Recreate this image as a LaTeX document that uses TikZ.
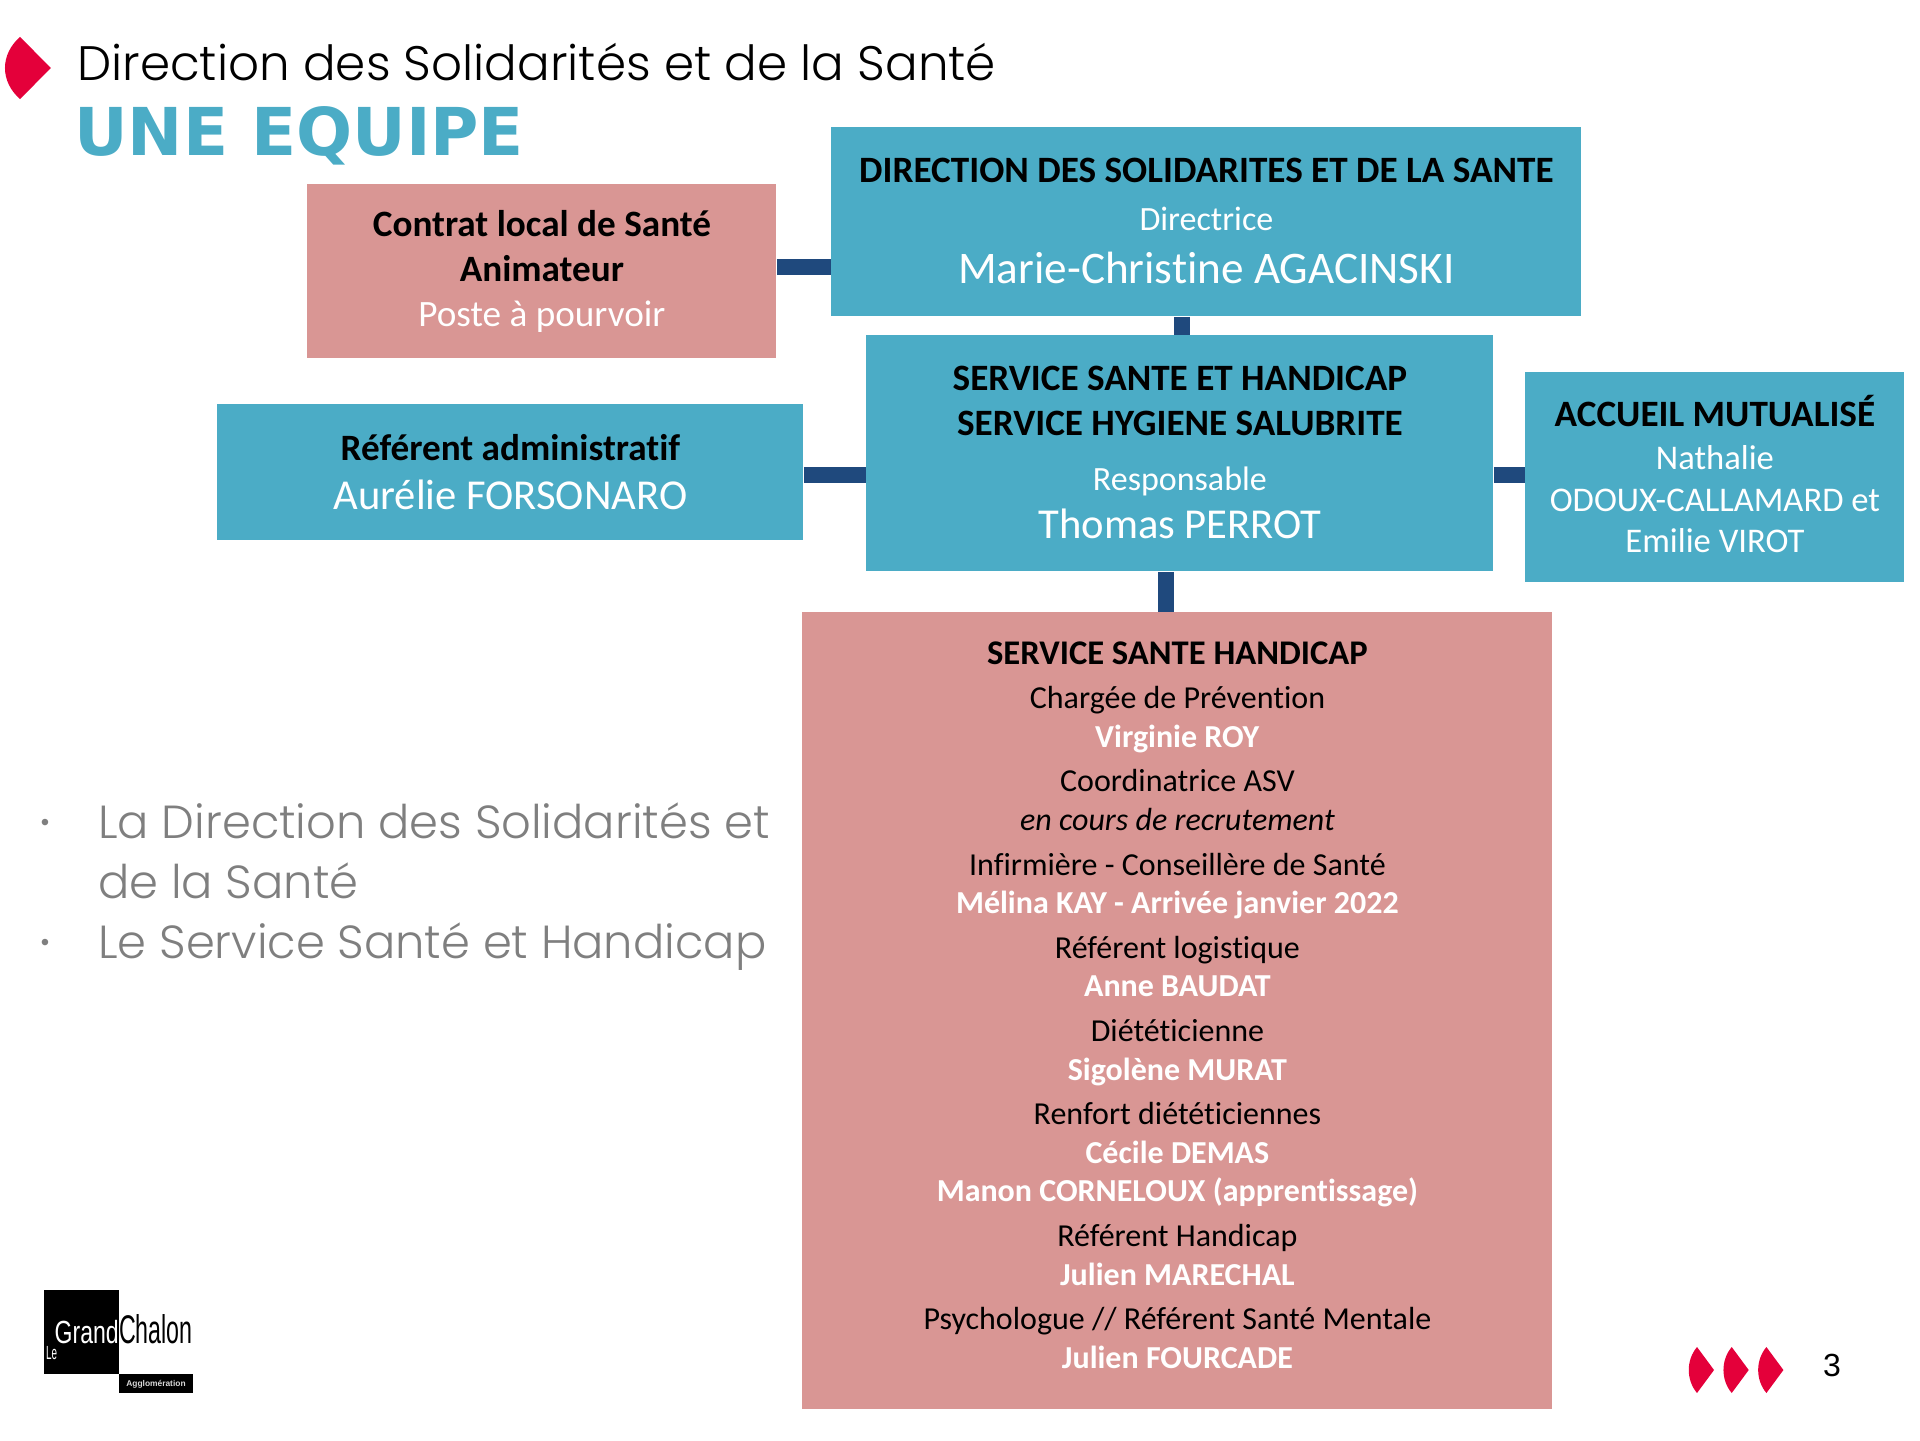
\documentclass[tikz,border=0pt]{standalone}
\usepackage{fontspec}
\setmainfont[Ligatures=NoCommon]{Carlito}
\newfontfamily\titlefont{Poppins Light}
\newfontfamily\heavyfont{DejaVu Sans}
\newfontfamily\arialfont{Liberation Sans}
\usetikzlibrary{
  calc,
  positioning,
}
\definecolor{teal}{HTML}{4BACC6}
\definecolor{rose}{HTML}{D99694}
\definecolor{navy}{HTML}{1F497D}
\definecolor{redmark}{HTML}{E4003A}
\definecolor{greytxt}{HTML}{7F7F7F}
\newcommand{\headtxt}[1]{\textcolor{black}{\bfseries #1}}
\newcommand{\roletxt}[1]{\textcolor{black}{#1}}
\newcommand{\nametxt}[1]{\textbf{#1}}
\newcommand{\medtxt}{\fontsize{17}{20}\selectfont}
\newcommand{\bigtxt}{\fontsize{21.3}{24}\selectfont}
\newcommand{\hugetxt}{\fontsize{22.6}{24}\selectfont}
\newcommand{\tailgap}[1]{\\[\dimexpr #1-\baselineskip\relax]\mbox{}}
\tikzset{
  boxbase/.style={anchor=north west, inner sep=0pt, text=white, align=center, font=\fontsize{18.6}{22.4}\selectfont},
  tealbox/.style={boxbase, fill=teal},
  rosebox/.style={boxbase, fill=rose},
  link/.style={draw=navy, line width=8pt},
  mark/.pic={\fill[redmark] (0,-23) -- (17,0) -- (0,23) .. controls (-11,10) and (-11,-10) .. cycle;},
  greyline/.style={anchor=base west, inner sep=0pt, text=greytxt, font=\titlefont\fontsize{23.2}{26}\selectfont},
  dotline/.style={anchor=center, inner sep=0pt, text=greytxt, font=\arialfont\fontsize{12}{14}\selectfont},
}
\begin{document}
\begin{tikzpicture}[x=0.5pt,y=-0.5pt]
\useasboundingbox (0,0) rectangle (1920,1440);

\pic[xscale=1.82,yscale=1.35] at (20,68) {mark};
\node[anchor=west, inner sep=0pt, font=\titlefont\fontsize{24.2}{28}\selectfont] (title) at (77,62) {Direction des Solidarités et de la Santé};
\node[anchor=west, inner sep=0pt, text=teal, font=\heavyfont\bfseries\fontsize{33}{36}\selectfont] (team) at (74,136) {UNE EQUIPE};

\node[tealbox, minimum width=375pt, minimum height=94.5pt, font=\fontsize{18.6}{24.5}\selectfont] (dir) at (831,127) {\headtxt{DIRECTION DES SOLIDARITES ET DE LA SANTE}\\[-.6pt]
{\medtxt Directrice}\\[1.8pt]
{\hugetxt Marie-Christine AGACINSKI}\tailgap{1.2pt}};
\node[rosebox, minimum width=234.5pt, minimum height=87pt] (contrat) at (307,184) {\headtxt{Contrat local de Santé}\\
\headtxt{Animateur}\\
Poste à pourvoir};
\node[tealbox, minimum width=313.5pt, minimum height=118pt, font=\fontsize{18.6}{22.6}\selectfont] (serv) at (866,335) {\headtxt{SERVICE SANTE ET HANDICAP}\\
\headtxt{SERVICE HYGIENE SALUBRITE}\\[4.8pt]
{\medtxt Responsable}\\[1.4pt]
{\bigtxt Thomas PERROT}\tailgap{1.6pt}};
\node[tealbox, minimum width=293pt, minimum height=68pt, font=\fontsize{18.6}{24.5}\selectfont] (ref) at (217,404) {\headtxt{Référent administratif}\\
{\bigtxt Aurélie FORSONARO}};
\node[tealbox, minimum width=189.5pt, minimum height=105pt, font=\fontsize{17.3}{20.8}\selectfont] (acc) at (1525,372) {{\fontsize{18.6}{20.8}\selectfont\headtxt{ACCUEIL MUTUALISÉ}}\\[.6pt]
Nathalie\\
ODOUX-CALLAMARD et\\
Emilie VIROT\tailgap{3.3pt}};
\node[rosebox, minimum width=375pt, minimum height=398.5pt, font=\fontsize{16}{19.3}\selectfont] (sante) at (802,612) {{\fontsize{17.3}{19.3}\selectfont\headtxt{SERVICE SANTE HANDICAP}}\\[3pt]
\roletxt{Chargée de Prévention}\\
\nametxt{Virginie ROY}\\[3pt]
\roletxt{Coordinatrice ASV}\\
\roletxt{\textit{en cours de recrutement}}\\[3pt]
\roletxt{Infirmière - Conseillère de Santé}\\
\nametxt{Mélina KAY - Arrivée janvier 2022}\\[3pt]
\roletxt{Référent logistique}\\
\nametxt{Anne BAUDAT}\\[3pt]
\roletxt{Diététicienne}\\
\nametxt{Sigolène MURAT}\\[3pt]
\roletxt{Renfort diététiciennes}\\
\nametxt{Cécile DEMAS}\\
\nametxt{Manon CORNELOUX (apprentissage)}\\[3pt]
\roletxt{Référent Handicap}\\
\nametxt{Julien MARECHAL}\\[3pt]
\roletxt{Psychologue // Référent Santé Mentale}\\
\nametxt{Julien FOURCADE}\tailgap{6pt}};

\coordinate (topy) at (0,267);
\coordinate (midy) at (0,475);
\coordinate (upx) at (1182,0);
\coordinate (lowx) at (1166,0);
\draw[link] (contrat.east |- topy) -- (dir.west |- topy);
\draw[link] (dir.south -| upx) -- (serv.north -| upx);
\draw[link] (ref.east |- midy) -- (serv.west |- midy);
\draw[link] (serv.east |- midy) -- (acc.west |- midy);
\draw[link] (serv.south -| lowx) -- (sante.north -| lowx);

\node[greyline] (la) at (98,838) {La Direction des Solidarités et};
\node[greyline] (lb) at (98,898) {de la Santé};
\node[greyline] (lc) at (98,958) {Le Service Santé et Handicap};
\node[dotline] (ba) at (45,825) {•};
\node[dotline] (bc) at (45,945) {•};

\fill[black] (44,1290) rectangle (119,1374);
\fill[black] (119,1374) rectangle (193,1393);
\node[anchor=base east, inner sep=0pt, text=white, xscale=.72, transform shape, font=\arialfont\fontsize{16}{18}\selectfont] (grand) at (119,1343) {Grand};
\node[anchor=base west, inner sep=0pt, text=black, xscale=.58, transform shape, font=\arialfont\fontsize{20}{24}\selectfont] (chalon) at (119,1343) {Chalon};
\node[anchor=base west, inner sep=0pt, text=white, xscale=.52, transform shape, font=\arialfont\fontsize{9.5}{11}\selectfont] (le) at (46,1359) {Le};
\node[anchor=center, inner sep=0pt, text=white!85!black, font=\arialfont\bfseries\fontsize{4.2}{6}\selectfont] (agglo) at (156,1384) {Agglomération};

\foreach \px in {1697,1731.7,1766.4}
  \pic at (\px,1370) {mark};
\node[anchor=center, inner sep=0pt, font=\arialfont\fontsize{16}{18}\selectfont] (page) at (1832,1365) {3};
\end{tikzpicture}
\end{document}
